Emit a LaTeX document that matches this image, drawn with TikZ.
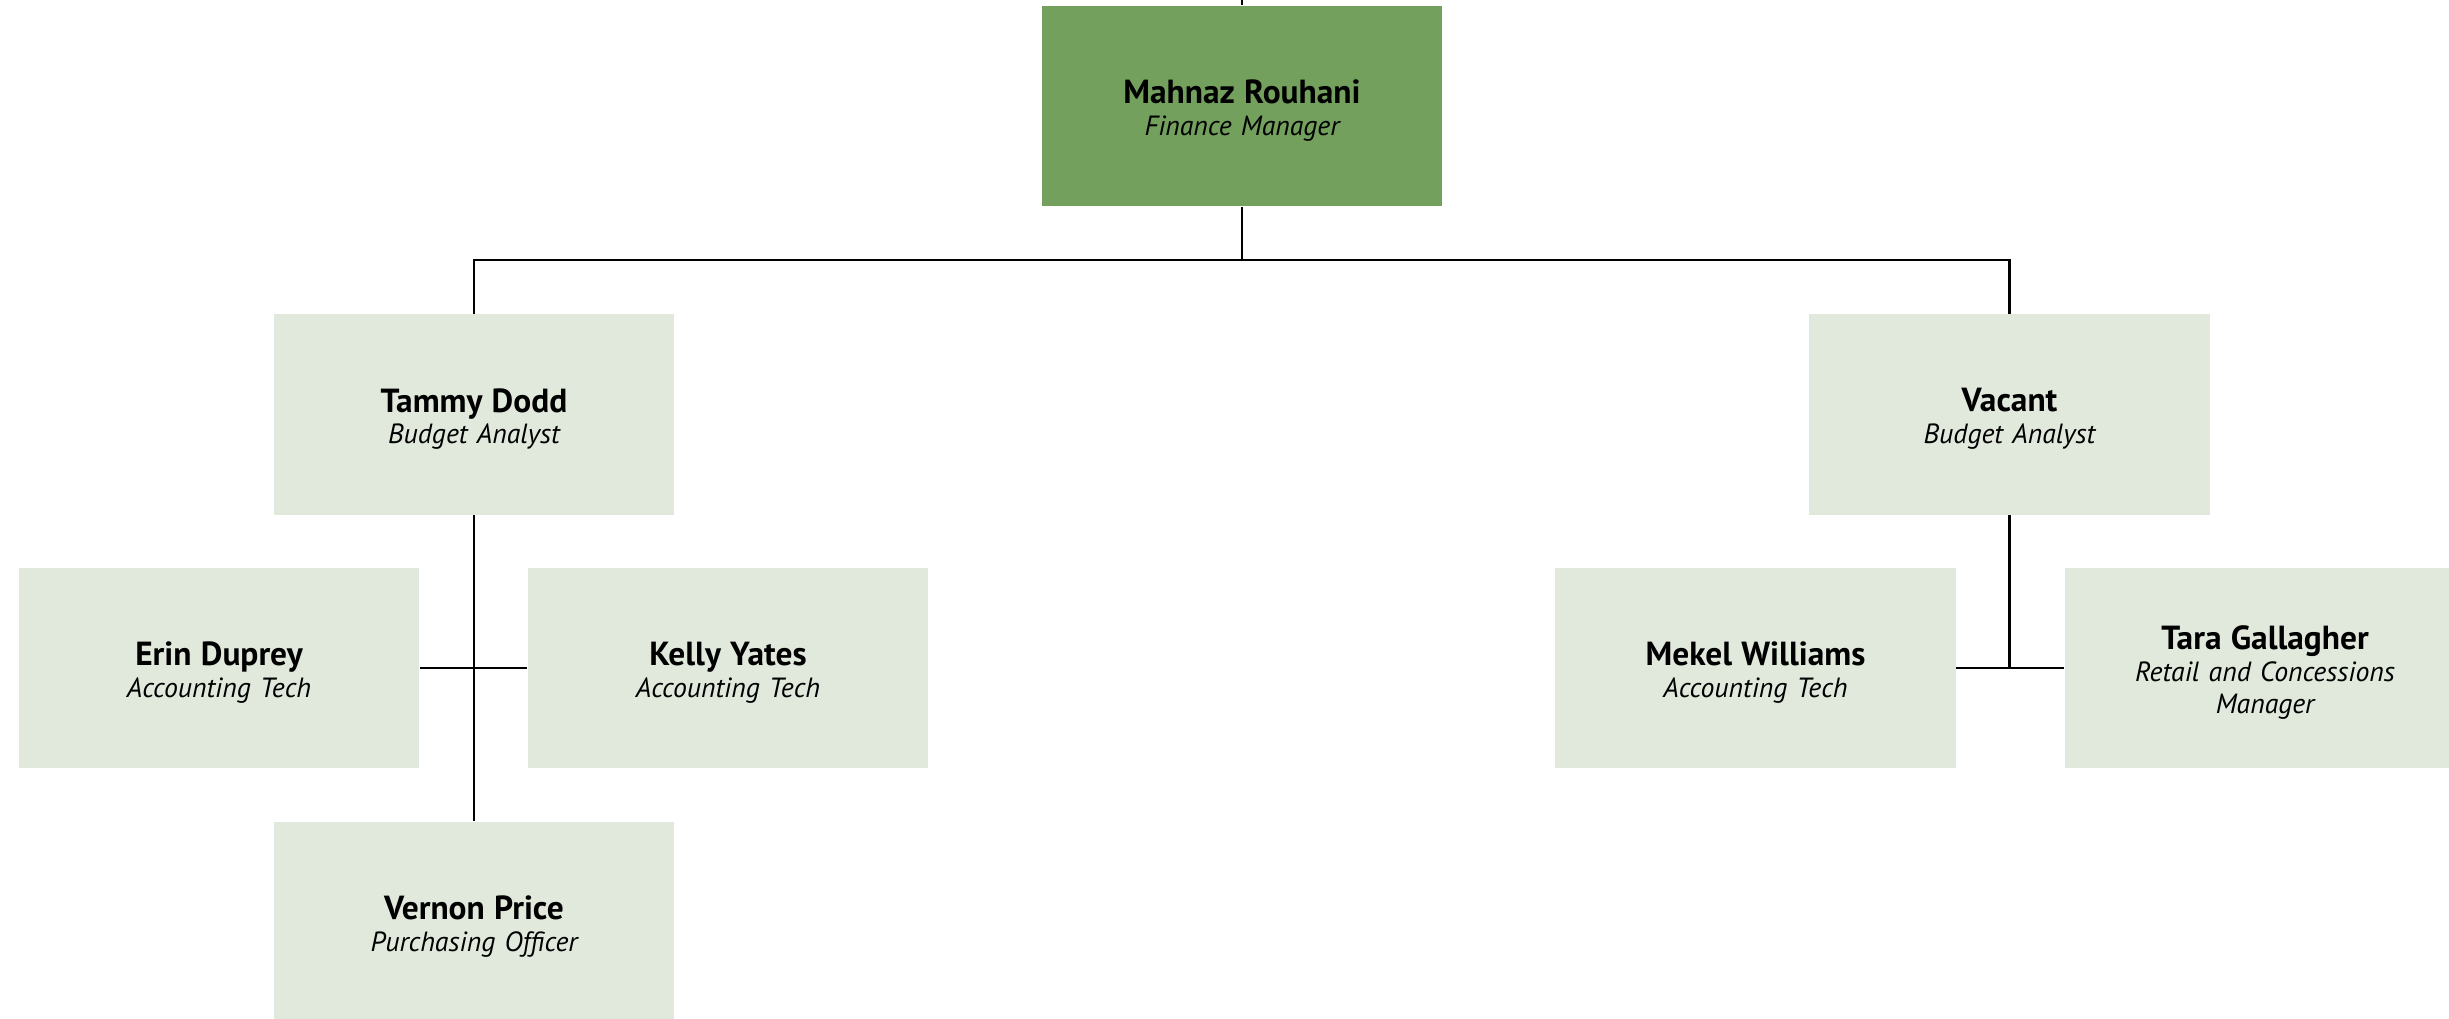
\documentclass[tikz,border=0pt]{standalone}
\usepackage{fontspec}
\setmainfont{PT Sans}[WordSpace={0.8}]
\usepackage{tikz}
\usetikzlibrary{positioning}
\definecolor{orggreen}{RGB}{115,160,93}
\definecolor{orgpale}{RGB}{224,233,220}

\newcommand{\lowered}[1]{\raisebox{-1.3pt}[\height][\depth]{#1}}
\newcommand{\person}[2]{{\bfseries\fontsize{9.5}{9}\selectfont\lowered{#1}}\\{\itshape\lowered{#2}}}

\begin{document}
\begin{tikzpicture}[x=0.01cm, y=0.01cm,
    box/.style={fill=orgpale, minimum width=4cm, minimum height=2cm, align=center, inner sep=0pt, text width=3.8cm, font=\fontsize{7.9}{9}\selectfont},
    headbox/.style={box, fill=orggreen},
    link/.style={line width=0.7pt, black}]
    % Page frame
    \clip (0,0) rectangle (2449,1019);

    % Manager
    \coordinate (above) at (1242,1019);
    \node[headbox] (mahnaz) at (1242,913) {\person{Mahnaz Rouhani}{Finance Manager}};

    % Budget analysts
    \node[box] (tammy) at (474,604.5) {\person{Tammy Dodd}{Budget Analyst}};
    \node[box] (vacant) at (2009.5,604.5) {\person{Vacant}{Budget Analyst}};

    % Staff
    \node[box] (erin) at (219,351) {\person{Erin Duprey}{Accounting Tech}};
    \node[box] (kelly) at (728,351) {\person{Kelly Yates}{Accounting Tech}};
    \node[box] (vernon) at (474,97) {\person{Vernon Price}{Purchasing Officer}};
    \node[box] (mekel) at (1755.5,351) {\person{Mekel Williams}{Accounting Tech}};
    \node[box] (tara) at (2265,351) {\person{Tara Gallagher}{Retail and Concessions}\\{\itshape\lowered{Manager}}};

    % Lines
    \draw[link] (above) -- (mahnaz.north);
    \draw[link] (mahnaz.south) -- ++(0,-53) coordinate (bar);
    \draw[link] (tammy.north) |- (bar) -| (vacant.north);
    \draw[link] (tammy.south) -- (vernon.north);
    \draw[link] (erin.east) -- (kelly.west);
    \draw[link] (vacant.south) |- (mekel.east);
    \draw[link] (mekel.east) -- (tara.west);
\end{tikzpicture}
\end{document}
